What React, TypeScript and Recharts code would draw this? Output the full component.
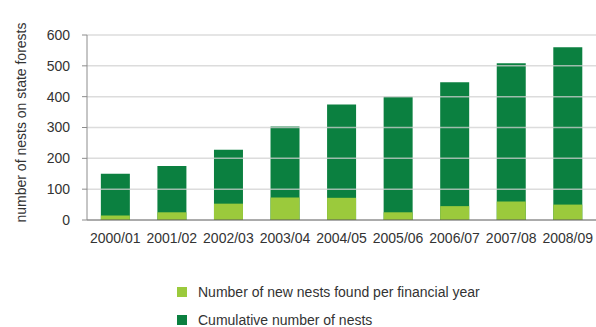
import React from "react";
import { BarChart, Bar, XAxis, YAxis, ReferenceLine, Legend } from "recharts";

const years = ["2000/01", "2001/02", "2002/03", "2003/04", "2004/05", "2005/06", "2006/07", "2007/08", "2008/09"];
const newNests = [15, 25, 53, 73, 72, 25, 45, 60, 50];
const cumulative = [150, 175, 228, 303, 375, 400, 447, 508, 560];
const yTicks = [0, 100, 200, 300, 400, 500, 600];
const gridTicks = [100, 200, 300, 400, 500, 600];
const edgeTicks = [0, 1, 2, 3, 4, 5, 6, 7, 8, 9];

const seriesNew = { key: "newNests", name: "Number of new nests found per financial year", color: "#9BCA3C" };
const seriesCum = { key: "cumulative", name: "Cumulative number of nests", color: "#0B8040" };

const data = years.map((y, i) => ({ year: y, idx: i, newNests: newNests[i], cumulative: cumulative[i] }));

const FONT = "'Liberation Sans', Arial, sans-serif";
const TEXT = "#333333";

const LegendContent = () => (
  <div style={{ position: "relative", height: 77, fontFamily: FONT, fontSize: 14, color: TEXT }}>
    {[seriesNew, seriesCum].map((s, i) => (
      <div
        key={s.key}
        style={{ position: "absolute", left: 177, top: 35 + i * 28, height: 14, display: "flex", alignItems: "center", whiteSpace: "nowrap" }}
      >
        <span style={{ display: "inline-block", width: 10, height: 10, background: s.color, marginRight: 11 }} />
        <span>{s.name}</span>
      </div>
    ))}
  </div>
);

const YLabel = (props: any) => {
  const vb = props.viewBox || { x: 0, y: 0, height: 0 };
  const cx = 21;
  const cy = vb.y + vb.height / 2 - 5;
  return (
    <text
      x={cx}
      y={cy}
      transform={`rotate(-90 ${cx} ${cy})`}
      textAnchor="middle"
      dominantBaseline="central"
      fontFamily={FONT}
      fontSize={14}
      fill={TEXT}
    >
      number of nests on state forests
    </text>
  );
};

export default function App() {
  return (
    <div style={{ position: "absolute", left: 0, top: 0, width: 596, height: 327, background: "#fff" }}>
      <BarChart
        width={596}
        height={327}
        data={data}
        margin={{ top: 35, right: 0, bottom: 0, left: 0 }}
        barCategoryGap="24.5%"
      >
        <XAxis
          xAxisId="edges"
          dataKey="idx"
          type="number"
          domain={[0, 9]}
          ticks={edgeTicks}
          height={0}
          axisLine={false}
          tickSize={5}
          tickLine={{ stroke: "#595959" }}
          tickFormatter={() => ""}
          allowDataOverflow
        />
        <XAxis
          xAxisId="main"
          dataKey="year"
          height={30}
          tickLine={false}
          tickSize={5}
          tickMargin={8}
          axisLine={{ stroke: "#595959" }}
          tick={{ fill: TEXT, fontSize: 14, fontFamily: FONT }}
          interval={0}
        />
        <XAxis xAxisId="overlay" dataKey="year" hide />
        <YAxis
          width={87}
          domain={[0, 600]}
          ticks={yTicks}
          tickSize={5}
          tickMargin={12}
          axisLine={{ stroke: "#8c8c8c" }}
          tickLine={{ stroke: "#8c8c8c" }}
          tick={{ fill: TEXT, fontSize: 14, fontFamily: FONT }}
          label={<YLabel />}
        />
        <Bar xAxisId="main" dataKey={seriesCum.key} name={seriesCum.name} fill={seriesCum.color} isAnimationActive={false} />
        <Bar xAxisId="overlay" dataKey={seriesNew.key} name={seriesNew.name} fill={seriesNew.color} isAnimationActive={false} />
        {gridTicks.map((t) => (
          <ReferenceLine key={t} xAxisId="main" y={t} stroke="#d0d0d0" strokeOpacity={0.75} strokeWidth={1.5} />
        ))}
        <Legend verticalAlign="bottom" height={77} content={<LegendContent />} />
      </BarChart>
    </div>
  );
}
